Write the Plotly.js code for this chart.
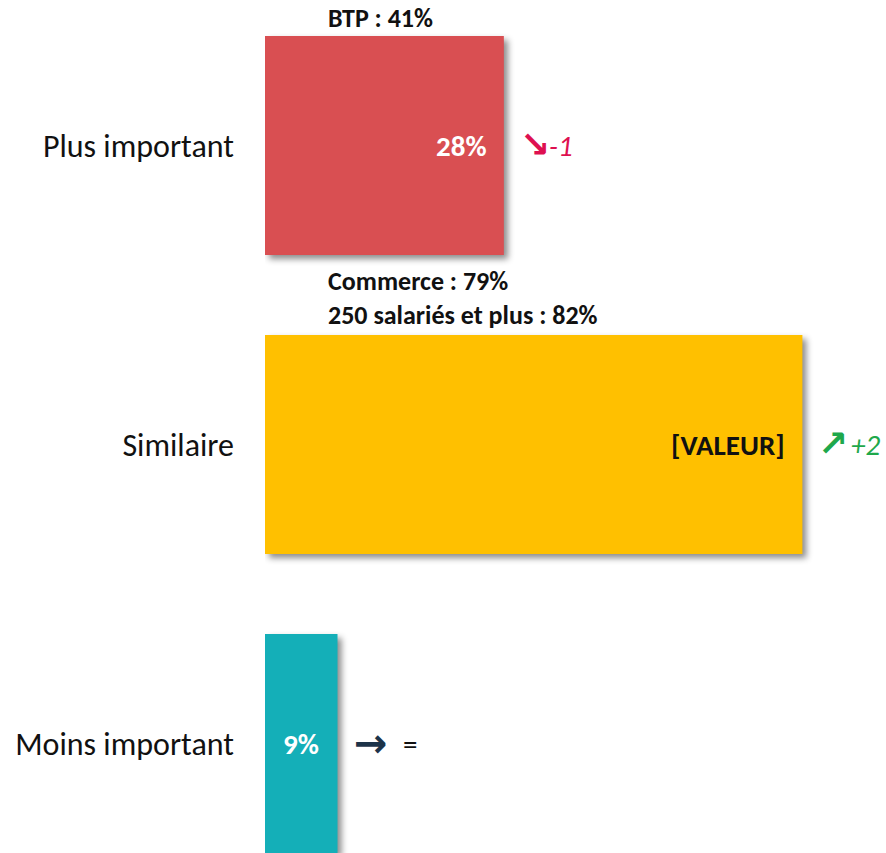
<!DOCTYPE html>
<html>
<head>
<meta charset="utf-8">
<script src="https://cdn.plot.ly/plotly-3.0.1.min.js"></script>
<style>
  html, body { margin: 0; padding: 0; background: #fff; }
  #chart { width: 886px; height: 853px; }
  .barlayer .point path { filter: drop-shadow(4px 4px 3px rgba(0,0,0,0.45)); }
</style>
</head>
<body>
<div id="chart"></div>
<script>
// ---- data ----
const categories = ["Plus important", "Similaire", "Moins important"];
const values = [28, 63, 8.5];
const valueLabels = ["28%", "[VALEUR]", "9%"];
const valueLabelColors = ["#FFFFFF", "#111111", "#FFFFFF"];
const barColors = ["#D94F52", "#FFC000", "#14AFB8"];
const trendArrows = ["↘", "↗", "→"];
const trendTexts = ["-1", "+2", "="];
const trendColors = ["#DE1050", "#1EA84B", "#1D3349"];
const notes = ["BTP : 41%", "Commerce : 79%<br>250 salariés et plus : 82%", ""];

const FONT = "Carlito, Calibri, Lato, 'Open Sans', sans-serif";
const ARROWFONT = "'DejaVu Sans', sans-serif";
const textShift = [43, 47, 63];

const trace = {
  type: "bar",
  orientation: "h",
  y: categories,
  x: values,
  marker: { color: barColors, line: { width: 0 } },
  hoverinfo: "none",
  showlegend: false
};

const annotations = [];
categories.forEach((c, i) => {
  const narrow = values[i] < 12;
  annotations.push({
    xref: "x", yref: "y",
    x: narrow ? values[i] / 2 : values[i],
    y: c,
    xanchor: narrow ? "center" : "right",
    xshift: narrow ? 0 : -15,
    yanchor: "middle",
    showarrow: false,
    text: "<b>" + valueLabels[i] + "</b>",
    font: { family: FONT, size: 29, color: valueLabelColors[i] }
  });
  // trend arrow
  annotations.push({
    xref: "x", yref: "y",
    x: values[i], y: c,
    xanchor: "left", xshift: 14, yanchor: "middle", yshift: 1,
    showarrow: false,
    text: "<b>" + trendArrows[i] + "</b>",
    font: { family: ARROWFONT, size: i === 2 ? 40 : 36, color: trendColors[i] }
  });
  // trend text
  annotations.push({
    xref: "x", yref: "y",
    x: values[i], y: c,
    xanchor: "left", xshift: textShift[i], yanchor: "middle",
    showarrow: false,
    text: trendTexts[i] === "=" ? trendTexts[i] : "<i>" + trendTexts[i] + "</i>",
    font: { family: FONT, size: 29, color: trendTexts[i] === "=" ? "#111111" : trendColors[i] }
  });
  if (notes[i]) {
    const lines = notes[i].split("<br>").length;
    annotations.push({
      xref: "paper", yref: "y",
      x: (326 - 265) / 621,
      y: lines === 1 ? i - 0.426 : i - 0.5 + 0.01,
      xanchor: "left", yanchor: "middle", align: "left",
      showarrow: false,
      text: "<b>" + notes[i] + "</b>",
      font: { family: FONT, size: 26, color: "#111111" }
    });
  }
});

const layout = {
  width: 886, height: 853,
  margin: { l: 265, r: 0, t: 0, b: 0 },
  paper_bgcolor: "#ffffff",
  plot_bgcolor: "#ffffff",
  bargap: 0.268,
  xaxis: { range: [0, 72.8], visible: false, fixedrange: true },
  yaxis: {
    range: [2.3662, -0.4866],
    showgrid: false, zeroline: false, showline: false, ticks: "",
    ticklabelstandoff: 30,
    tickfont: { family: FONT, size: 32, color: "#111111" },
    fixedrange: true
  },
  annotations: annotations,
  showlegend: false
};

Plotly.newPlot("chart", [trace], layout, { displayModeBar: false, staticPlot: true });
</script>
</body>
</html>
